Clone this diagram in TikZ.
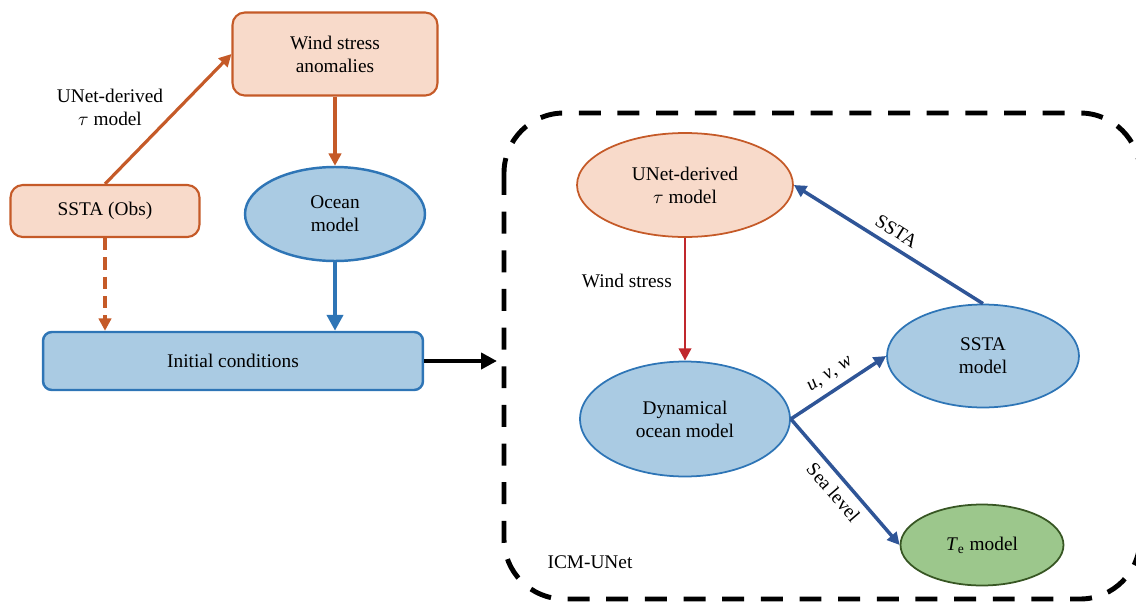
\documentclass[tikz,border=0pt]{standalone}
\usepackage{fontspec}
\setmainfont{Liberation Serif}
\usetikzlibrary{shapes.geometric,arrows.meta}

\definecolor{peach}{HTML}{F8DACA}
\definecolor{rust}{HTML}{C55A28}
\definecolor{skyfill}{HTML}{AACBE3}
\definecolor{skyline}{HTML}{2E75B6}
\definecolor{navy}{HTML}{2F5597}
\definecolor{crimson}{HTML}{C0282D}
\definecolor{leaf}{HTML}{9CC78C}
\definecolor{forest}{HTML}{375623}

\begin{document}
\begin{tikzpicture}[x=0.02cm, y=-0.02cm, font=\fontsize{11}{13}\selectfont,
  orangebox/.style = {draw=rust, fill=peach, line width=1.2pt, rounded corners=7pt, align=center},
  bluebox/.style = {draw=skyline, fill=skyfill, line width=1.4pt, rounded corners=5pt, align=center},
  oval/.style = {ellipse, line width=1pt, align=center, inner sep=0pt},
  tip/.style = {-{Triangle[length=7pt, width=7pt]}},
  arrowlabel/.style = {text=black, sloped, inner sep=4pt}]

\useasboundingbox (0,0) rectangle (1136,602);

% left part
\node [orangebox, minimum width=4.1cm, minimum height=1.66cm] (wind) at (335,54) {Wind stress\\anomalies};
\node [orangebox, minimum width=3.78cm, minimum height=1.04cm] (obs) at (105,211) {SSTA (Obs)};
\node [oval, draw=skyline, fill=skyfill, line width=1.4pt, minimum width=3.6cm, minimum height=1.88cm] (ocean) at (335,214) {Ocean\\model};
\node [bluebox, minimum width=7.6cm, minimum height=1.16cm] (init) at (233,361) {Initial conditions};

\draw [tip, rust, line width=1.8pt] (obs.north) -- (wind.west);
\node [align=center] (tau) at (110,107) {UNet-derived\\$\tau$ model};
\draw [tip, rust, line width=1.8pt] (wind.south) -- (ocean.north);
\draw [tip, rust, line width=1.8pt, dash pattern=on 7pt off 4pt] (obs.south) -- (obs.south |- init.north);
\draw [-{Triangle[length=9pt, width=9pt]}, skyline, line width=2.6pt] (ocean.south) -- (ocean.south |- init.north);

\coordinate (icm) at (497,361);
\draw [-{Triangle[length=9pt, width=9pt]}, black, line width=2.8pt] (init.east) -- (icm);

% ICM-UNet part
\draw [line width=2.8pt, dash pattern=on 12.5pt off 9.5pt, rounded corners=1.2cm] (504,113) rectangle (1140,599);
\node (icmlabel) at (590,562) {ICM-UNet};

\node [oval, draw=rust, fill=peach, minimum width=4.32cm, minimum height=2.08cm] (unet) at (685,185) {UNet-derived\\$\tau$ model};
\node [oval, draw=skyline, fill=skyfill, minimum width=4.2cm, minimum height=2.3cm] (dyn) at (685,419) {Dynamical\\ocean model};
\node [oval, draw=skyline, fill=skyfill, minimum width=3.84cm, minimum height=2.06cm] (sstam) at (983,356) {SSTA\\model};
\node [oval, draw=forest, fill=leaf, minimum width=3.26cm, minimum height=1.62cm] (te) at (982,545) {\textit{T}\textsubscript{e} model};

\draw [tip, crimson, line width=1.6pt] (unet.south) -- (dyn.north);
\node [anchor=east] (windlabel) at (678,281) {Wind stress};
\draw [tip, navy, line width=2pt] (sstam.north) -- node [midway, above, arrowlabel] {SSTA} (unet.east);
\draw [tip, navy, line width=2pt] (dyn.east) -- node [midway, above, arrowlabel] {\textit{u}, \textit{v}, \textit{w}} (sstam.west);
\draw [tip, navy, line width=2pt] (dyn.east) -- node [midway, below, arrowlabel] {Sea level} (te.west);

\end{tikzpicture}
\end{document}
